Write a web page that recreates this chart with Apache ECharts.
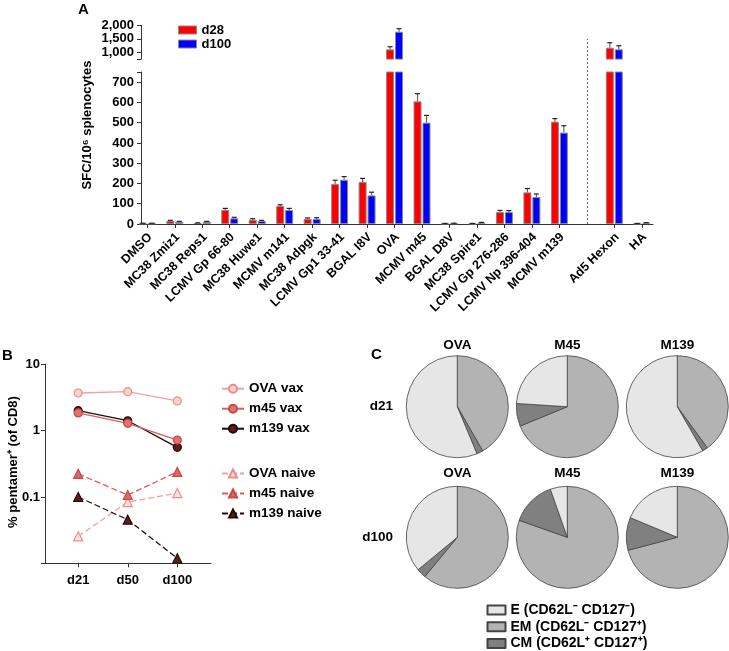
<!DOCTYPE html>
<html><head><meta charset="utf-8">
<script src="https://cdn.jsdelivr.net/npm/echarts@6/dist/echarts.min.js"></script>
<style>html,body{margin:0;padding:0;background:#fff}#c{width:729px;height:651px}</style>
</head><body><div id="c"></div>
<script>
// ---------- Panel A data ----------
const categories = ['DMSO','MC38 Zmiz1','MC38 Reps1','LCMV Gp 66-80','MC38 Huwe1','MCMV m141','MC38 Adpgk','LCMV Gp1 33-41','BGAL I8V','OVA','MCMV m45','BGAL D8V','MC38 Spire1','LCMV Gp 276-286','LCMV Np 396-404','MCMV m139','','Ad5 Hexon','HA'];
const d28     = [3, 15, 5, 69, 21, 89, 25, 197, 207, 1110, 605, 2, 2, 59, 156, 505, null, 1170, 2];
const d28Err  = [1, 3, 1, 8, 5, 6, 5, 19, 18, 97, 38, 1, 1, 8, 19, 15, null, 186, 1];
const d100    = [3, 11, 11, 28, 15, 69, 25, 218, 141, 1763, 500, 3, 7, 59, 133, 451, null, 1111, 6];
const d100Err = [1, 2, 2, 5, 3, 8, 6, 16, 16, 111, 36, 1, 1, 7, 15, 34, null, 133, 1];
const upperTickLabels = [1000, 1500, 2000];
const lowerTickLabels = [0, 100, 200, 300, 400, 500, 600, 700];
const breakValue = 750;

// ---------- Panel B data ----------
const bDays = ['d21', 'd50', 'd100'];
const ovaVax    = [3.69, 3.86, 2.80];
const m45Vax    = [1.85, 1.29, 0.72];
const m139Vax   = [2.00, 1.41, 0.56];
const ovaNaive  = [0.0255, 0.0838, 0.1145];
const m45Naive  = [0.223, 0.107, 0.239];
const m139Naive = [0.100, 0.0454, 0.0119];
const bYLabels = [10, 1, 0.1];

// ---------- Panel C data ----------
const pieCols = ['OVA', 'M45', 'M139'];
const pieRows = ['d21', 'd100'];
const subsetNames = ['EM (CD62L⁻ CD127⁺)', 'CM (CD62L⁺ CD127⁺)', 'E (CD62L⁻ CD127⁻)'];
const legendOrder = ['E (CD62L⁻ CD127⁻)', 'EM (CD62L⁻ CD127⁺)', 'CM (CD62L⁺ CD127⁺)'];
const ovaD21   = [41.7, 2.0, 56.3];
const m45D21   = [68.8, 7.2, 24.0];
const m139D21  = [40.0, 1.7, 58.3];
const ovaD100  = [61.0, 3.0, 36.0];
const m45D100  = [80.4, 14.2, 5.4];
const m139D100 = [70.9, 10.4, 18.7];

// ---------- style ----------
const FF = '"Liberation Sans", Arial, Helvetica, sans-serif';
const AX = '#333';
const T = (size, extra) => Object.assign({fontFamily: FF, fontWeight: 'bold', fontSize: size, color: '#000'}, extra || {});

const chart = echarts.init(document.getElementById('c'), null, {renderer: 'canvas'});

const barLeft = 133.6, barWidthTotal = 521.9;
const upTop = 25.3, upH = 33.8, loTop = 72, loH = 152;

function barSeries(name, vals, color, gi) {
  return {
    type: 'bar', name: name, xAxisIndex: gi, yAxisIndex: gi, clip: true,
    data: vals.map(v => v == null ? '-' : v),
    barWidth: 8, barGap: '12%',
    itemStyle: {color: color, borderColor: '#8a8a8a', borderWidth: 1},
    emphasis: {disabled: true}, z: 2
  };
}
function errSeries(vals, errs, dx, gi, lo, hi) {
  const data = [];
  vals.forEach((v, i) => { if (v != null) data.push([i, v, errs[i]]); });
  return {
    type: 'custom', name: 'err' + gi + dx, xAxisIndex: gi, yAxisIndex: gi, z: 3,
    data: data,
    renderItem: function (params, api) {
      const v = api.value(1), e = api.value(2);
      if (v < lo || v > hi) return;
      const u = Math.min(v + e, hi);
      const p0 = api.coord([api.value(0), v]);
      const p1 = api.coord([api.value(0), u]);
      const x = p0[0] + dx;
      return {type: 'group', children: [
        {type: 'line', shape: {x1: x, y1: p0[1], x2: x, y2: p1[1]}, style: {stroke: '#666', lineWidth: 1.2}},
        {type: 'line', shape: {x1: x - 2.5, y1: p1[1], x2: x + 2.5, y2: p1[1]}, style: {stroke: '#222', lineWidth: 1.2}}
      ]};
    }
  };
}

function lineSeries(name, vals, color, fill, border, symbol, dashed) {
  return {
    type: 'line', name: name, xAxisIndex: 5, yAxisIndex: 5,
    data: vals.map((v, i) => [i + 1, v]),
    symbol: symbol, symbolSize: symbol === 'circle' ? 8 : 9,
    lineStyle: {color: color, width: 1.3, type: dashed ? [6, 3] : 'solid'},
    itemStyle: {color: fill, borderColor: border, borderWidth: 1.2},
    emphasis: {disabled: true}, z: 4
  };
}

const pieCenters = [[457.3, 406.7], [567.3, 406.7], [677.3, 406.7], [457.3, 537.3], [567.3, 537.3], [677.3, 537.3]];
const pieSets = [ovaD21, m45D21, m139D21, ovaD100, m45D100, m139D100];
const pieColors = ['#b3b3b3', '#808080', '#e6e6e6'];
const pies = pieSets.map((vals, k) => ({
  type: 'pie', name: 'pie' + k, center: pieCenters[k], radius: 51, startAngle: 90, clockwise: true,
  label: {show: false}, labelLine: {show: false}, emphasis: {disabled: true}, silent: true,
  data: vals.map((v, i) => ({name: subsetNames[i], value: v, itemStyle: {color: pieColors[i], borderColor: '#444', borderWidth: 0.8}}))
}));

const graphics = [
  {type: 'text', left: 78, top: 2, style: {text: 'A', font: 'bold 15px ' + FF, fill: '#000'}},
  {type: 'text', left: 2, top: 348, style: {text: 'B', font: 'bold 15px ' + FF, fill: '#000'}},
  {type: 'text', left: 371, top: 347, style: {text: 'C', font: 'bold 15px ' + FF, fill: '#000'}},
  {type: 'text', x: 87, y: 125, rotation: Math.PI / 2, style: {text: 'SFC/10⁶ splenocytes', font: 'bold 13px ' + FF, fill: '#000', align: 'center', verticalAlign: 'middle'}},
  {type: 'text', x: 13, y: 462, rotation: Math.PI / 2, style: {text: '% pentamer⁺ (of CD8)', font: 'bold 13px ' + FF, fill: '#000', align: 'center', verticalAlign: 'middle'}}
];
pieCols.forEach((c, j) => {
  graphics.push({type: 'text', x: pieCenters[j][0], y: 345, style: {text: c, font: 'bold 13.5px ' + FF, fill: '#000', align: 'center', verticalAlign: 'middle'}});
  graphics.push({type: 'text', x: pieCenters[j][0], y: 473.5, style: {text: c, font: 'bold 13.5px ' + FF, fill: '#000', align: 'center', verticalAlign: 'middle'}});
});
pieRows.forEach((r, i) => {
  graphics.push({type: 'text', x: 393, y: pieCenters[i * 3][1], style: {text: r, font: 'bold 13.5px ' + FF, fill: '#000', align: 'right', verticalAlign: 'middle'}});
});

const option = {
  animation: false,
  backgroundColor: '#fff',
  textStyle: {fontFamily: FF},
  grid: [
    {left: barLeft, top: upTop, width: barWidthTotal, height: upH},
    {left: barLeft, top: loTop, width: barWidthTotal, height: loH},
    {left: 141, top: upTop, width: 512, height: upH},
    {left: 141, top: loTop, width: 512, height: loH},
    {left: barLeft, top: 39, width: barWidthTotal, height: 185},
    {left: 45, top: 364.3, width: 166, height: 199}
  ],
  xAxis: [
    {type: 'category', gridIndex: 0, data: categories, show: false},
    {type: 'category', gridIndex: 1, data: categories,
      axisLine: {show: false},
      axisTick: {show: true, alignWithLabel: true, length: 4, lineStyle: {color: AX}, interval: (idx, val) => val !== ''},
      axisLabel: T(12.5, {interval: 0, rotate: 45, margin: 14, padding: [0, -4, 0, 0]})},
    {type: 'value', gridIndex: 2, show: false, min: 0, max: 1},
    {type: 'value', gridIndex: 3, min: 0, max: 1, axisLine: {show: true, lineStyle: {color: AX, width: 1}}, axisTick: {show: false}, axisLabel: {show: false}, splitLine: {show: false}},
    {type: 'category', gridIndex: 4, data: categories, show: false},
    {type: 'value', gridIndex: 5, min: 0.33, max: 3.68,
      axisLine: {show: true, lineStyle: {color: AX}},
      axisTick: {show: true, length: 4, lineStyle: {color: AX}, customValues: [1, 2, 3]},
      axisLabel: T(13, {margin: 11, customValues: [1, 2, 3], formatter: v => bDays[Math.round(v) - 1] || ''}),
      splitLine: {show: false}}
  ],
  yAxis: [
    {type: 'value', gridIndex: 0, min: breakValue, max: 2000, show: false},
    {type: 'value', gridIndex: 1, min: 0, max: breakValue, show: false},
    {type: 'value', gridIndex: 2, min: breakValue, max: 2000,
      axisLine: {show: true, lineStyle: {color: AX}},
      axisTick: {show: true, length: 4, lineStyle: {color: AX}, customValues: [breakValue].concat(upperTickLabels)},
      axisLabel: T(13, {margin: 7, customValues: upperTickLabels, formatter: v => Number(v).toLocaleString('en-US')}),
      splitLine: {show: false}},
    {type: 'value', gridIndex: 3, min: 0, max: breakValue,
      axisLine: {show: true, lineStyle: {color: AX}},
      axisTick: {show: true, length: 4, lineStyle: {color: AX}, customValues: lowerTickLabels.concat([breakValue])},
      axisLabel: T(13, {margin: 7, customValues: lowerTickLabels}),
      splitLine: {show: false}},
    {type: 'value', gridIndex: 4, min: 0, max: 1, show: false},
    {type: 'log', gridIndex: 5, min: 0.01, max: 10, logBase: 10,
      axisLine: {show: true, lineStyle: {color: AX}},
      axisTick: {show: true, length: 4, lineStyle: {color: AX}},
      minorTick: {show: false},
      axisLabel: T(13, {margin: 5, formatter: v => (bYLabels.indexOf(Number(v)) >= 0 ? String(v) : '')}),
      splitLine: {show: false}}
  ],
  legend: [
    {data: ['d28', 'd100'], orient: 'vertical', left: 178, top: 23, padding: 0, itemWidth: 18, itemHeight: 8, itemGap: 0,
      selectedMode: false, icon: 'rect', textStyle: T(13, {lineHeight: 14}),
      itemStyle: {borderColor: '#8a8a8a', borderWidth: 1}},
    {data: ['OVA vax', 'm45 vax', 'm139 vax'], orient: 'vertical', left: 221, top: 380.7, height: 70, padding: 0, itemWidth: 22, itemHeight: 10, itemGap: 4,
      selectedMode: false, textStyle: T(13.5, {lineHeight: 16})},
    {data: ['OVA naive', 'm45 naive', 'm139 naive'], orient: 'vertical', left: 221, top: 465.5, height: 70, padding: 0, itemWidth: 22, itemHeight: 10, itemGap: 4,
      selectedMode: false, textStyle: T(13.5, {lineHeight: 16})},
    {data: legendOrder, orient: 'vertical', left: 486.5, top: 603, height: 60, padding: 0, itemWidth: 18, itemHeight: 9, itemGap: 2.7,
      selectedMode: false, icon: 'rect', textStyle: T(14, {lineHeight: 14})}
  ],
  graphic: graphics,
  series: [
    barSeries('d28', d28, '#ff0000', 0),
    barSeries('d100', d100, '#0000ff', 0),
    barSeries('d28', d28, '#ff0000', 1),
    barSeries('d100', d100, '#0000ff', 1),
    errSeries(d28, d28Err, -4.5, 0, breakValue, 2000),
    errSeries(d100, d100Err, 4.5, 0, breakValue, 2000),
    errSeries(d28, d28Err, -4.5, 1, 0, breakValue),
    errSeries(d100, d100Err, 4.5, 1, 0, breakValue),
    {type: 'line', name: 'divider', xAxisIndex: 4, yAxisIndex: 4, data: [], silent: true,
      markLine: {silent: true, symbol: 'none', label: {show: false},
        lineStyle: {color: '#666', width: 1, type: [2, 2]},
        data: [{xAxis: 16}]}},
    lineSeries('OVA vax', ovaVax, '#f2a0a0', '#fbd3d3', '#ee8a8a', 'circle', false),
    lineSeries('m139 vax', m139Vax, '#1a0a0a', '#5e1c1c', '#2a0808', 'circle', false),
    lineSeries('m45 vax', m45Vax, '#dd5c5c', '#e57070', '#c84848', 'circle', false),
    lineSeries('OVA naive', ovaNaive, '#f2a0a0', '#fde4e4', '#ee8a8a', 'triangle', true),
    lineSeries('m45 naive', m45Naive, '#dd5c5c', '#e06666', '#c84848', 'triangle', true),
    lineSeries('m139 naive', m139Naive, '#2a0808', '#5e1c1c', '#2a0808', 'triangle', true)
  ].concat(pies)
};
chart.setOption(option);
</script>
</body></html>
